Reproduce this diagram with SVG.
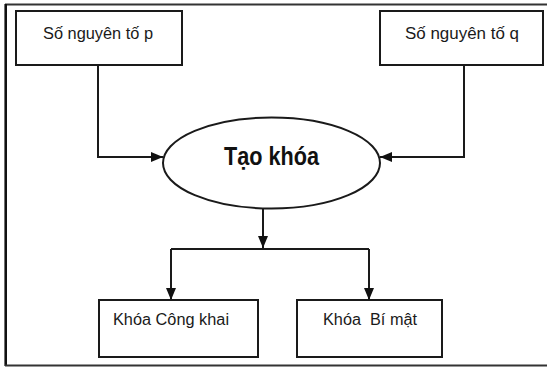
<svg xmlns="http://www.w3.org/2000/svg" width="547" height="367" viewBox="0 0 547 367">
  <style>
    .box { fill: #ffffff; stroke: #1a1a1a; stroke-width: 2; }
    .wire { fill: none; stroke: #1a1a1a; stroke-width: 2; }
    .lbl { font-family: "Liberation Sans", Arial, sans-serif; font-size: 16px; fill: #1a1a1a; text-anchor: middle; }
    .big { font-family: "Liberation Sans", Arial, sans-serif; font-size: 25px; font-weight: bold; fill: #111111; text-anchor: middle; }
  </style>
  <defs>
    <marker id="arrow" viewBox="0 0 12 10" refX="12" refY="5" markerWidth="12" markerHeight="10" markerUnits="userSpaceOnUse" orient="auto">
      <path d="M0,0 L12,5 L0,10 Z" fill="#111111"/>
    </marker>
  </defs>

  <rect width="547" height="367" fill="#ffffff"/>

  <!-- outer frame -->
  <g id="frame">
    <line x1="5" y1="4.5" x2="547" y2="4.5" stroke="#333333" stroke-width="1.8"/>
    <line x1="5.7" y1="4" x2="5.7" y2="366" stroke="#111111" stroke-width="2.6"/>
    <line x1="5" y1="365.5" x2="547" y2="365.5" stroke="#333333" stroke-width="2"/>
  </g>

  <!-- connectors -->
  <g id="connectors">
    <path class="wire" d="M98,65 V157 H163" marker-end="url(#arrow)"/>
    <path class="wire" d="M464,65 V157 H380" marker-end="url(#arrow)"/>
    <path class="wire" d="M263,208 V248" marker-end="url(#arrow)"/>
    <path class="wire" d="M171,249 H369"/>
    <path class="wire" d="M171,249 V300" marker-end="url(#arrow)"/>
    <path class="wire" d="M369,249 V300" marker-end="url(#arrow)"/>
  </g>

  <g id="prime-p">
    <rect class="box" x="16" y="11" width="166" height="54"/>
    <text class="lbl" x="98" y="39" textLength="110" lengthAdjust="spacingAndGlyphs">Số nguyên tố p</text>
  </g>

  <g id="prime-q">
    <rect class="box" x="380" y="11" width="163" height="54"/>
    <text class="lbl" x="462" y="39" textLength="114" lengthAdjust="spacingAndGlyphs">Số nguyên tố q</text>
  </g>

  <g id="keygen">
    <ellipse class="box" cx="271.5" cy="163" rx="108.5" ry="45.5"/>
    <text class="big" x="271.5" y="165" textLength="95" lengthAdjust="spacingAndGlyphs">Tạo khóa</text>
  </g>

  <g id="public-key">
    <rect class="box" x="99" y="300" width="159" height="57"/>
    <text class="lbl" x="171" y="325" textLength="116" lengthAdjust="spacingAndGlyphs">Khóa Công khai</text>
  </g>

  <g id="private-key">
    <rect class="box" x="297" y="300" width="145" height="57"/>
    <text class="lbl" x="370" y="325" textLength="94" lengthAdjust="spacingAndGlyphs" xml:space="preserve">Khóa  Bí mật</text>
  </g>
</svg>
